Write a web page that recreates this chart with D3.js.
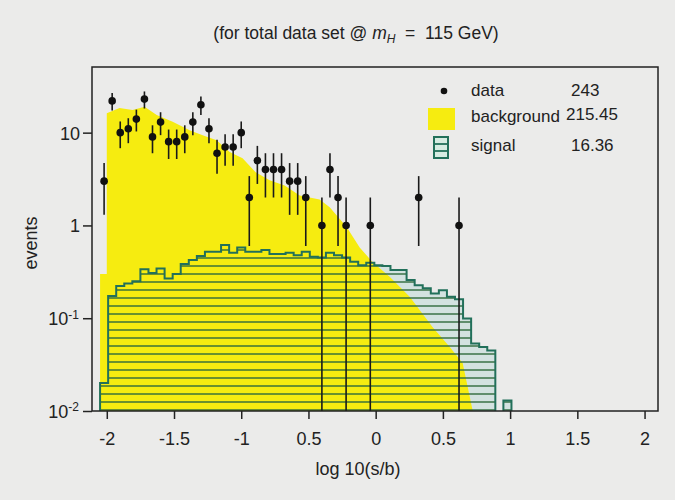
<!DOCTYPE html>
<html lang="en">
<head>
<meta charset="UTF-8">
<title>log10(s/b) - total data set</title>
<script src="https://d3js.org/d3.v7.min.js"></script>
<style>
  body { margin: 0; background: #ebebea; font-family: "Liberation Sans", Arial, Helvetica, sans-serif; }
  svg { display: block; }
</style>
</head>
<body>
<svg id="vis"></svg>
<script>
// observed events: bin centre, count, error
const dataX = [-2.02, -1.96, -1.90, -1.84, -1.78, -1.72, -1.66, -1.60, -1.54, -1.48,
               -1.42, -1.36, -1.30, -1.24, -1.18, -1.12, -1.06, -1.00, -0.94, -0.88,
               -0.82, -0.76, -0.70, -0.64, -0.58, -0.52, -0.40, -0.34, -0.28, -0.22,
               -0.04, 0.32, 0.62];
const dataN = [3, 22, 10, 11, 14, 23, 9, 13, 8, 8,
               9, 13, 20, 11, 6, 7, 7, 10, 2, 5,
               4, 4, 4, 3, 3, 2, 1, 4, 2, 1,
               1, 2, 1];
const dataErr = [1.7, 4.7, 3.2, 3.3, 3.7, 4.8, 3.0, 3.6, 2.8, 2.8,
                 3.0, 3.6, 4.5, 3.3, 2.4, 2.6, 2.6, 3.2, 1.4, 2.2,
                 2.0, 2.0, 2.0, 1.7, 1.7, 1.4, 1.0, 2.0, 1.4, 1.0,
                 1.0, 1.4, 1.0];

// background expectation (yellow), outline points
const bgX = [-2.05, -2.05, -2.0, -2.0, -1.905, -1.808, -1.719, -1.629, -1.51, -1.384,
             -1.287, -1.183, -1.086, -0.99, -0.893, -0.789, -0.677, -0.565, -0.417, -0.342,
             -0.216, -0.119, -0.022, 0.104, 0.253, 0.424, 0.551, 0.647, 0.722];
const bgY = [0.01, 0.3, 0.3, 16.2, 18.4, 17.5, 19, 15.5, 13.1, 10.6,
             9.4, 8.3, 6.2, 5.3, 3.75, 3.07, 2.7, 2.1, 1.9, 1.57,
             0.96, 0.58, 0.40, 0.28, 0.17, 0.080, 0.049, 0.033, 0.01];

// signal expectation, bins of 0.06 from -2.05
const sigStart = -2.05;
const sigWidth = 0.06;
const sigY = [0.020, 0.174, 0.222, 0.237, 0.251, 0.338, 0.308, 0.344, 0.268, 0.299,
              0.383, 0.423, 0.467, 0.520, 0.520, 0.614, 0.507, 0.579, 0.520, 0.520,
              0.542, 0.491, 0.491, 0.507, 0.478, 0.520, 0.459, 0.450, 0.507, 0.478,
              0.450, 0.405, 0.373, 0.397, 0.373, 0.365, 0.330, 0.330, 0.258, 0.227,
              0.211, 0.185, 0.200, 0.170, 0.160, 0.0995, 0.0535, 0.049, 0.045, 0,
              0.013];

const xTicks = [-2, -1.5, -1, -0.5, 0, 0.5, 1, 1.5, 2];
const xTickLabels = ["-2", "-1.5", "-1", "0.5", "0", "0.5", "1", "1.5", "2"];
const yTicks = [0.01, 0.1, 1, 10];
const yTickBase = ["10", "10", "1", "10"];
const yTickExp = ["-2", "-1", "", ""];

const legendLabels = ["data", "background", "signal"];
const legendValues = ["243", "215.45", "16.36"];

const width = 675, height = 500;
const plot = {left: 92, right: 658, top: 67, bottom: 411};
const YELLOW = "#f6ec10";
const SIG_FILL = "#d3e2e0";
const SIG_LINE = "#22705a";
const HATCH = "#2e6a3a";

const svg = d3.select("#vis").attr("width", width).attr("height", height);

const x = d3.scaleLinear().domain([-2.11, 2.1]).range([plot.left, plot.right]);
const y = d3.scaleLog().domain([0.01, 51]).range([plot.bottom, plot.top]).clamp(true);

const defs = svg.append("defs");
defs.append("clipPath").attr("id", "clip")
  .append("rect")
  .attr("x", plot.left).attr("y", plot.top)
  .attr("width", plot.right - plot.left).attr("height", plot.bottom - plot.top);

const hatch = defs.append("pattern")
  .attr("id", "hatch")
  .attr("patternUnits", "userSpaceOnUse")
  .attr("width", 10).attr("height", 8);
hatch.append("line")
  .attr("x1", 0).attr("x2", 10).attr("y1", 2).attr("y2", 2)
  .attr("stroke", HATCH).attr("stroke-width", 1.4);

// build closed step outlines for each run of non-empty signal bins
function stepRuns(values) {
  const runs = [];
  let cur = null;
  values.forEach((v, k) => {
    const lo = sigStart + k * sigWidth, hi = lo + sigWidth;
    if (v > 0) {
      if (!cur) { cur = [[lo, 0.01]]; }
      cur.push([lo, v], [hi, v]);
    } else if (cur) {
      cur.push([lo, 0.01]);
      runs.push(cur);
      cur = null;
    }
  });
  if (cur) {
    cur.push([sigStart + values.length * sigWidth, 0.01]);
    runs.push(cur);
  }
  return runs;
}
const runs = stepRuns(sigY);
const stepLine = d3.line().x(d => x(d[0])).y(d => y(d[1]));

const g = svg.append("g").attr("clip-path", "url(#clip)");

// signal pale fill
g.selectAll("path.sigfill").data(runs).join("path")
  .attr("class", "sigfill")
  .attr("d", d => stepLine(d) + "Z")
  .attr("fill", SIG_FILL);

// background
const bgPts = bgX.map((v, i) => [v, bgY[i]]);
const bgArea = d3.area()
  .x(d => x(d[0]))
  .y0(y(0.01))
  .y1(d => y(d[1]));
g.append("path")
  .attr("d", bgArea(bgPts))
  .attr("fill", YELLOW);

// signal hatch + outline
g.selectAll("path.sighatch").data(runs).join("path")
  .attr("class", "sighatch")
  .attr("d", d => stepLine(d) + "Z")
  .attr("fill", "url(#hatch)");
g.selectAll("path.sigline").data(runs).join("path")
  .attr("class", "sigline")
  .attr("d", d => stepLine(d))
  .attr("fill", "none")
  .attr("stroke", SIG_LINE)
  .attr("stroke-width", 2);

// data points
const pts = dataX.map((v, i) => ({x: v, n: dataN[i], e: dataErr[i]}));
g.selectAll("line.err").data(pts).join("line")
  .attr("class", "err")
  .attr("x1", d => x(d.x)).attr("x2", d => x(d.x))
  .attr("y1", d => y(d.n + d.e))
  .attr("y2", d => (d.n - d.e) > 0.01 ? y(d.n - d.e) : plot.bottom)
  .attr("stroke", "#1a1a1a").attr("stroke-width", 1.6);
g.selectAll("circle.pt").data(pts).join("circle")
  .attr("class", "pt")
  .attr("cx", d => x(d.x)).attr("cy", d => y(d.n))
  .attr("r", 3.8)
  .attr("fill", "#111");

// frame
svg.append("rect")
  .attr("x", plot.left).attr("y", plot.top)
  .attr("width", plot.right - plot.left).attr("height", plot.bottom - plot.top)
  .attr("fill", "none").attr("stroke", "#222").attr("stroke-width", 1.5);

// axes
const xAxis = svg.append("g")
  .attr("transform", `translate(0,${plot.bottom})`)
  .call(d3.axisBottom(x).tickValues(xTicks).tickFormat((d, i) => xTickLabels[i])
    .tickSize(8).tickSizeOuter(0).tickPadding(13));
xAxis.select(".domain").remove();
xAxis.selectAll("line").attr("stroke", "#222").attr("stroke-width", 1.5);
xAxis.selectAll("text").attr("font-size", 18).attr("fill", "#222")
  .attr("font-family", "'Liberation Sans', Arial, sans-serif");

const yAxis = svg.append("g")
  .attr("transform", `translate(${plot.left},0)`)
  .call(d3.axisLeft(y).tickValues(yTicks).tickFormat("").tickSize(9).tickSizeOuter(0));
yAxis.select(".domain").remove();
yAxis.selectAll("line").attr("stroke", "#222").attr("stroke-width", 1.5);
yAxis.selectAll(".tick").each(function (d, i) {
  const t = d3.select(this).append("text")
    .attr("x", yTickExp[i] ? -13 : -12)
    .attr("dy", "0.36em")
    .attr("text-anchor", "end")
    .attr("fill", "#222")
    .attr("font-size", 18)
    .attr("font-family", "'Liberation Sans', Arial, sans-serif");
  t.append("tspan").text(yTickBase[i]);
  if (yTickExp[i]) {
    t.append("tspan").attr("dy", "-0.55em").attr("font-size", 12).text(yTickExp[i]);
  }
});

// axis titles
svg.append("text")
  .attr("x", 358).attr("y", 475)
  .attr("text-anchor", "middle")
  .attr("font-size", 18).attr("fill", "#222")
  .text("log 10(s/b)");
svg.append("text")
  .attr("transform", "translate(37,243) rotate(-90)")
  .attr("text-anchor", "middle")
  .attr("font-size", 18).attr("fill", "#222")
  .text("events");

// title
const title = svg.append("text")
  .attr("x", 356).attr("y", 39)
  .attr("text-anchor", "middle")
  .attr("font-size", 17.5).attr("fill", "#222");
title.append("tspan").text("(for total data set @ ");
title.append("tspan").attr("font-style", "italic").text("m");
title.append("tspan").attr("font-style", "italic").attr("font-size", 12).attr("dy", 4).text("H");
title.append("tspan").attr("dy", -4).attr("xml:space", "preserve").text("  =  115 GeV)");

// legend
const leg = svg.append("g").attr("font-size", 17).attr("fill", "#222");
const legRows = [96, 122, 151];
leg.append("circle").attr("cx", 444).attr("cy", 91).attr("r", 3.3).attr("fill", "#111");
leg.append("rect").attr("x", 428).attr("y", 108).attr("width", 27).attr("height", 22).attr("fill", YELLOW);
leg.append("rect").attr("x", 434).attr("y", 137).attr("width", 14).attr("height", 21)
  .attr("fill", "#d6ece2").attr("stroke", SIG_LINE).attr("stroke-width", 2);
[144, 151].forEach(ly => leg.append("line")
  .attr("x1", 434).attr("x2", 448).attr("y1", ly).attr("y2", ly)
  .attr("stroke", SIG_LINE).attr("stroke-width", 1.8));
leg.selectAll("text.lab").data(legendLabels).join("text")
  .attr("class", "lab")
  .attr("x", 471).attr("y", (d, i) => legRows[i])
  .text(d => d);
leg.selectAll("text.val").data(legendValues).join("text")
  .attr("class", "val")
  .attr("x", (d, i) => i === 1 ? 566 : 571).attr("y", (d, i) => i === 1 ? 120 : legRows[i])
  .text(d => d);
</script>
</body>
</html>
